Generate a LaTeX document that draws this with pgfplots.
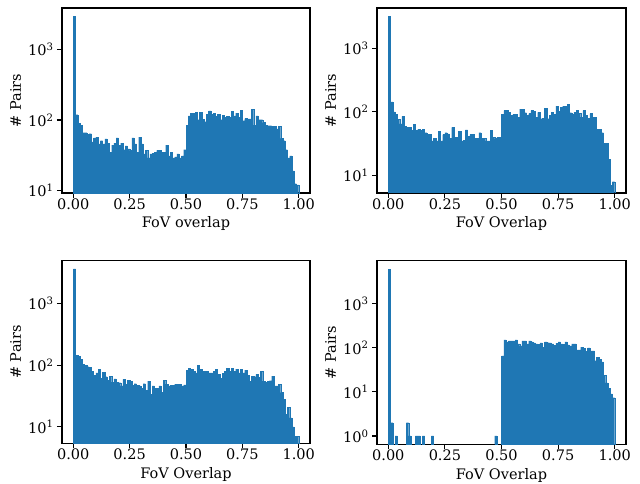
\documentclass[border=0pt]{standalone}
\usepackage{fontspec}
\setmainfont{DejaVu Serif}
\usepackage{pgfplots}
\usepackage{pgfplotstable}
\pgfplotsset{compat=1.18}
\definecolor{mplblue}{HTML}{1F77B4}

% counts per bin (100 bins over [0,1])
\pgfplotstableread[row sep=\\]{
bin n \\
0 2950 \\ 1 119 \\ 2 90 \\ 3 85 \\ 4 66 \\ 5 66 \\ 6 63 \\ 7 64 \\ 8 49 \\ 9 56 \\
10 57 \\ 11 46 \\ 12 51 \\ 13 46 \\ 14 54 \\ 15 47 \\ 16 35 \\ 17 44 \\ 18 47 \\ 19 56 \\
20 44 \\ 21 47 \\ 22 38 \\ 23 43 \\ 24 39 \\ 25 37 \\ 26 56 \\ 27 46 \\ 28 35 \\ 29 57 \\
30 46 \\ 31 33 \\ 32 37 \\ 33 29 \\ 34 33 \\ 35 34 \\ 36 35 \\ 37 37 \\ 38 37 \\ 39 35 \\
40 35 \\ 41 44 \\ 42 31 \\ 43 35 \\ 44 29 \\ 45 30 \\ 46 33 \\ 47 29 \\ 48 31 \\ 49 38 \\
50 85 \\ 51 115 \\ 52 125 \\ 53 124 \\ 54 128 \\ 55 101 \\ 56 130 \\ 57 103 \\ 58 95 \\ 59 120 \\
60 135 \\ 61 120 \\ 62 124 \\ 63 113 \\ 64 120 \\ 65 101 \\ 66 117 \\ 67 110 \\ 68 113 \\ 69 110 \\
70 132 \\ 71 115 \\ 72 125 \\ 73 110 \\ 74 137 \\ 75 98 \\ 76 105 \\ 77 104 \\ 78 104 \\ 79 142 \\
80 85 \\ 81 115 \\ 82 101 \\ 83 101 \\ 84 92 \\ 85 85 \\ 86 83 \\ 87 83 \\ 88 81 \\ 89 82 \\
90 75 \\ 91 82 \\ 92 55 \\ 93 51 \\ 94 38 \\ 95 29 \\ 96 31 \\ 97 19 \\ 98 12.5 \\ 99 12 \\
}\tabA

\pgfplotstableread[row sep=\\]{
bin n \\
0 3160 \\ 1 144 \\ 2 100 \\ 3 91 \\ 4 77 \\ 5 65 \\ 6 85 \\ 7 59 \\ 8 57 \\ 9 57 \\
10 51 \\ 11 64 \\ 12 51 \\ 13 53 \\ 14 51 \\ 15 53 \\ 16 47 \\ 17 44 \\ 18 44 \\ 19 35 \\
20 38 \\ 21 35 \\ 22 50 \\ 23 35 \\ 24 44 \\ 25 47 \\ 26 45 \\ 27 38 \\ 28 57 \\ 29 40 \\
30 40 \\ 31 50 \\ 32 35 \\ 33 36 \\ 34 52 \\ 35 41 \\ 36 44 \\ 37 44 \\ 38 38 \\ 39 38 \\
40 47 \\ 41 38 \\ 42 38 \\ 43 35 \\ 44 35 \\ 45 51 \\ 46 40 \\ 47 38 \\ 48 40 \\ 49 40 \\
50 92 \\ 51 105 \\ 52 105 \\ 53 98 \\ 54 89 \\ 55 92 \\ 56 91 \\ 57 83 \\ 58 110 \\ 59 110 \\
60 97 \\ 61 89 \\ 62 94 \\ 63 105 \\ 64 101 \\ 65 83 \\ 66 98 \\ 67 78 \\ 68 80 \\ 69 114 \\
70 78 \\ 71 89 \\ 72 98 \\ 73 92 \\ 74 123 \\ 75 103 \\ 76 119 \\ 77 123 \\ 78 122 \\ 79 132 \\
80 97 \\ 81 92 \\ 82 98 \\ 83 105 \\ 84 95 \\ 85 83 \\ 86 105 \\ 87 89 \\ 88 80 \\ 89 94 \\
90 82 \\ 91 82 \\ 92 53 \\ 93 53 \\ 94 47 \\ 95 32 \\ 96 32 \\ 97 18 \\ 98 7 \\ 99 8 \\
}\tabB

\pgfplotstableread[row sep=\\]{
bin n \\
0 3600 \\ 1 145 \\ 2 140 \\ 3 125 \\ 4 102 \\ 5 99 \\ 6 94 \\ 7 92 \\ 8 80 \\ 9 69 \\
10 75 \\ 11 86 \\ 12 61 \\ 13 77 \\ 14 65 \\ 15 57 \\ 16 66 \\ 17 53 \\ 18 60 \\ 19 53 \\
20 52 \\ 21 46 \\ 22 59 \\ 23 49 \\ 24 57 \\ 25 55 \\ 26 47 \\ 27 50 \\ 28 47 \\ 29 46 \\
30 42 \\ 31 50 \\ 32 39 \\ 33 55 \\ 34 34 \\ 35 46 \\ 36 42 \\ 37 42 \\ 38 46 \\ 39 36 \\
40 57 \\ 41 49 \\ 42 46 \\ 43 47 \\ 44 47 \\ 45 49 \\ 46 49 \\ 47 49 \\ 48 46 \\ 49 48 \\
50 83 \\ 51 89 \\ 52 86 \\ 53 80 \\ 54 75 \\ 55 100 \\ 56 86 \\ 57 80 \\ 58 80 \\ 59 80 \\
60 75 \\ 61 75 \\ 62 80 \\ 63 86 \\ 64 71 \\ 65 61 \\ 66 73 \\ 67 80 \\ 68 89 \\ 69 80 \\
70 89 \\ 71 80 \\ 72 86 \\ 73 75 \\ 74 86 \\ 75 75 \\ 76 83 \\ 77 69 \\ 78 55 \\ 79 66 \\
80 65 \\ 81 71 \\ 82 63 \\ 83 80 \\ 84 55 \\ 85 53 \\ 86 55 \\ 87 56 \\ 88 66 \\ 89 46 \\
90 46 \\ 91 49 \\ 92 36 \\ 93 28 \\ 94 16 \\ 95 21 \\ 96 14 \\ 97 10 \\ 98 7 \\ 99 7 \\
}\tabC

\pgfplotstableread[row sep=\\]{
bin n \\
0 6200 \\ 1 2 \\ 3 1 \\ 8 2 \\ 9 1 \\ 12 1 \\ 13 1 \\ 15 1 \\ 19 1 \\ 47 1 \\
50 66 \\ 51 152 \\ 52 137 \\ 53 144 \\ 54 144 \\ 55 144 \\ 56 152 \\ 57 123 \\ 58 111 \\ 59 144 \\
60 144 \\ 61 123 \\ 62 144 \\ 63 137 \\ 64 130 \\ 65 123 \\ 66 121 \\ 67 130 \\ 68 102 \\ 69 137 \\
70 132 \\ 71 130 \\ 72 123 \\ 73 115 \\ 74 128 \\ 75 137 \\ 76 123 \\ 77 121 \\ 78 137 \\ 79 117 \\
80 111 \\ 81 123 \\ 82 123 \\ 83 90 \\ 84 90 \\ 85 105 \\ 86 97 \\ 87 83 \\ 88 100 \\ 89 86 \\
90 86 \\ 91 51.5 \\ 92 62 \\ 93 56 \\ 94 48 \\ 95 24 \\ 96 16 \\ 97 12 \\ 98 9 \\ 99 7.4 \\
}\tabD

\pgfplotsset{
  every axis/.append style={
    scale only axis,
    xmin=-0.05, xmax=1.05,
    xtick={0,0.25,0.5,0.75,1},
    xticklabel style={/pgf/number format/fixed, /pgf/number format/fixed zerofill,
      /pgf/number format/precision=2, /pgf/number format/assume math mode=true,
      yshift=3pt},
    tick align=outside, tick pos=left,
    major tick length=5pt, minor tick length=3pt,
    every major tick/.append style={line width=1.1pt, black},
    every minor tick/.append style={line width=0.8pt, black},
    axis line style={line width=1.1pt},
    tick label style={font=\fontsize{14.5}{17}\selectfont},
    xlabel style={font=\fontsize{14.5}{17}\selectfont, yshift=-0.5pt},
    ylabel style={font=\fontsize{14.5}{17}\selectfont},
    ylabel={\# Pairs},
    log origin y=infty,
  },
}

\begin{document}
\begin{tikzpicture}[x=1pt, y=1pt]
\useasboundingbox (0,0) rectangle (640,483);

\begin{axis}[at={(62pt,290pt)}, anchor=south west, width=248pt, height=185pt,
  ymode=log, log basis y=10, ytickten={0,1,2,3},
  yticklabel={\pgfmathparse{int(round(\tick))}10\textsuperscript{\pgfmathresult}},
  ymin=9.2, ymax=3900, xlabel={FoV overlap}]
  \addplot[ybar, bar width=0.01, bar shift=0pt, fill=mplblue, draw=mplblue, line width=0.2pt]
    table[x expr=\thisrow{bin}*0.01+0.005, y=n] {\tabA};
\end{axis}

\begin{axis}[at={(377pt,290pt)}, anchor=south west, width=249pt, height=185pt,
  ymode=log, log basis y=10, ytickten={0,1,2,3},
  yticklabel={\pgfmathparse{int(round(\tick))}10\textsuperscript{\pgfmathresult}},
  ymin=5.3, ymax=4300, xlabel={FoV Overlap}]
  \addplot[ybar, bar width=0.01, bar shift=0pt, fill=mplblue, draw=mplblue, line width=0.2pt]
    table[x expr=\thisrow{bin}*0.01+0.005, y=n] {\tabB};
\end{axis}

\begin{axis}[at={(62pt,39.5pt)}, anchor=south west, width=248pt, height=183pt,
  ymode=log, log basis y=10, ytickten={0,1,2,3},
  yticklabel={\pgfmathparse{int(round(\tick))}10\textsuperscript{\pgfmathresult}},
  ymin=5.4, ymax=4900, xlabel={FoV Overlap}]
  \addplot[ybar, bar width=0.01, bar shift=0pt, fill=mplblue, draw=mplblue, line width=0.2pt]
    table[x expr=\thisrow{bin}*0.01+0.005, y=n] {\tabC};
\end{axis}

\begin{axis}[at={(377pt,38.7pt)}, anchor=south west, width=249pt, height=183.5pt,
  ymode=log, log basis y=10, ytickten={0,1,2,3},
  yticklabel={\pgfmathparse{int(round(\tick))}10\textsuperscript{\pgfmathresult}},
  ymin=0.646, ymax=9550, xlabel={FoV Overlap}]
  \addplot[ybar, bar width=0.01, bar shift=0pt, fill=mplblue, draw=mplblue, line width=0.2pt]
    table[x expr=\thisrow{bin}*0.01+0.005, y=n] {\tabD};
\end{axis}
\end{tikzpicture}
\end{document}
